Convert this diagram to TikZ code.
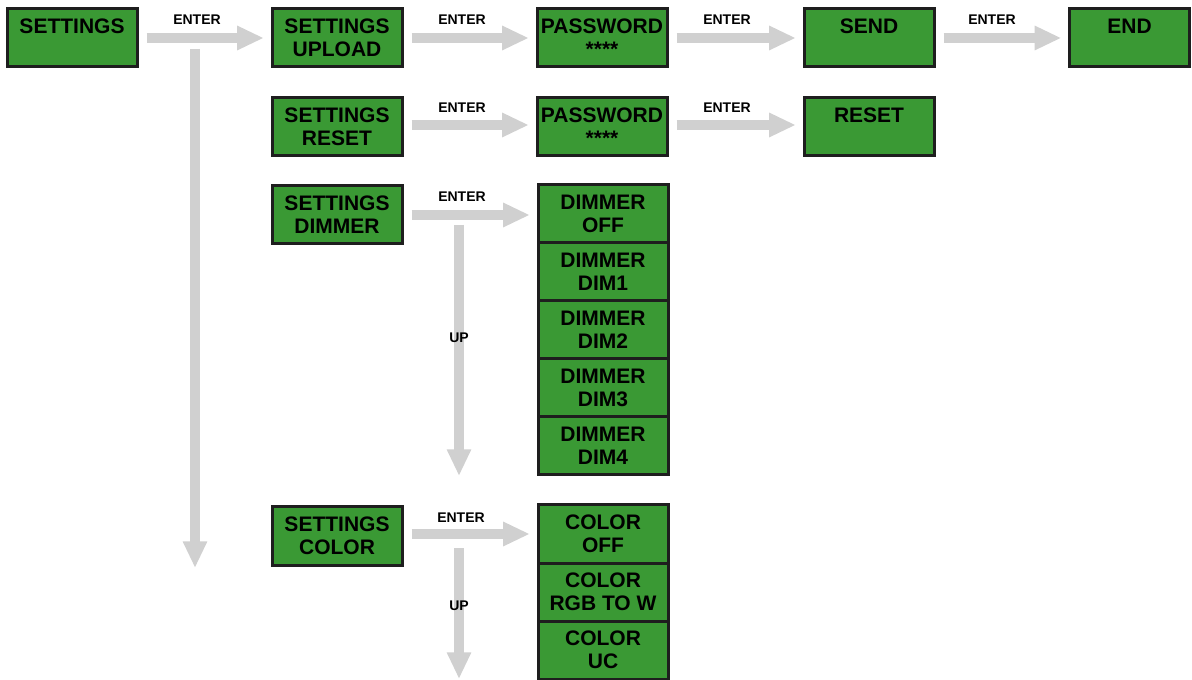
\documentclass[tikz,border=0pt]{standalone}
\usepackage{fontspec}
\setmainfont{Liberation Sans}
\usetikzlibrary{arrows.meta}
\definecolor{boxgreen}{RGB}{58,153,52}
\definecolor{arrowgray}{RGB}{208,208,208}
\definecolor{edgecol}{RGB}{30,30,30}
\begin{document}
\begin{tikzpicture}[x=0.75pt,y=-0.75pt,
  box/.style={draw=edgecol, fill=boxgreen, line width=2.25pt,
    minimum width=97.5pt, minimum height=43.5pt, inner sep=0pt,
    align=center, font=\fontsize{15.75}{17.25}\selectfont\bfseries},
  garrow/.style={draw=arrowgray, line width=7.5pt,
    -{Triangle[length=20pt,width=17pt]}},
  hgap/.style={shorten <=6pt, shorten >=5pt},
  lab/.style={font=\fontsize{10.5}{12}\selectfont\bfseries, inner sep=0pt}]
\useasboundingbox (0,0) rectangle (1192,680);

% row 1
\node[box] (set) at (72,38) {SETTINGS\\\phantom{X}};
\node[box] (upl) at (337,38) {SETTINGS\\UPLOAD};
\node[box] (pw1) at (602,38) {PASSWORD\\****};
\node[box] (send) at (869,38) {SEND\\\phantom{X}};
\node[box, minimum width=90pt] (endb) at (1129.5,38) {END\\\phantom{X}};

% row 2
\node[box] (rst) at (337,127) {SETTINGS\\RESET};
\node[box] (pw2) at (602,127) {PASSWORD\\****};
\node[box] (reset) at (869,127) {RESET\\\phantom{X}};

% row 3
\node[box] (dim) at (337,215) {SETTINGS\\DIMMER};
\node[box] (d0) at (603,214) {DIMMER\\OFF};
\node[box] (d1) at (603,272) {DIMMER\\DIM1};
\node[box] (d2) at (603,330) {DIMMER\\DIM2};
\node[box] (d3) at (603,388) {DIMMER\\DIM3};
\node[box] (d4) at (603,446) {DIMMER\\DIM4};

% row 4
\node[box] (col) at (337,536) {SETTINGS\\COLOR};
\node[box] (c0) at (603,534) {COLOR\\OFF};
\node[box] (c1) at (603,592) {COLOR\\RGB TO W};
\node[box] (c2) at (603,650) {COLOR\\UC};

% horizontal arrows
\draw[garrow, hgap] (set.east) -- (upl.west);
\draw[garrow, hgap] (upl.east) -- (pw1.west);
\draw[garrow, hgap] (pw1.east) -- (send.west);
\draw[garrow, hgap] (send.east) -- (endb.west);
\draw[garrow, hgap] ([yshift=1.5pt]rst.east) -- ([yshift=1.5pt]pw2.west);
\draw[garrow, hgap] ([yshift=1.5pt]pw2.east) -- ([yshift=1.5pt]reset.west);
\draw[garrow, hgap] (dim.east) -- (d0.west |- dim.east);
\draw[garrow, hgap] ([yshift=1.5pt]col.east) -- ([yshift=1.5pt]c0.west |- col.east);

% vertical arrows
\coordinate (v1s) at (195,49);
\coordinate (v1e) at (195,568);
\draw[garrow] (v1s) -- (v1e);
\coordinate (u1s) at (459,225);
\coordinate (u1e) at (459,476);
\draw[garrow] (u1s) -- (u1e);
\coordinate (u2s) at (459,548);
\coordinate (u2e) at (459,679);
\draw[garrow] (u2s) -- (u2e);

% labels
\node[lab] (l1) at (197,20) {ENTER};
\node[lab] (l2) at (462,20) {ENTER};
\node[lab] (l3) at (727,20) {ENTER};
\node[lab] (l4) at (992,20) {ENTER};
\node[lab] (l5) at (462,108) {ENTER};
\node[lab] (l6) at (727,108) {ENTER};
\node[lab] (l7) at (462,197) {ENTER};
\node[lab] (l8) at (461,518) {ENTER};
\node[lab] (up1) at (459,338) {UP};
\node[lab] (up2) at (459,606) {UP};
\end{tikzpicture}
\end{document}
